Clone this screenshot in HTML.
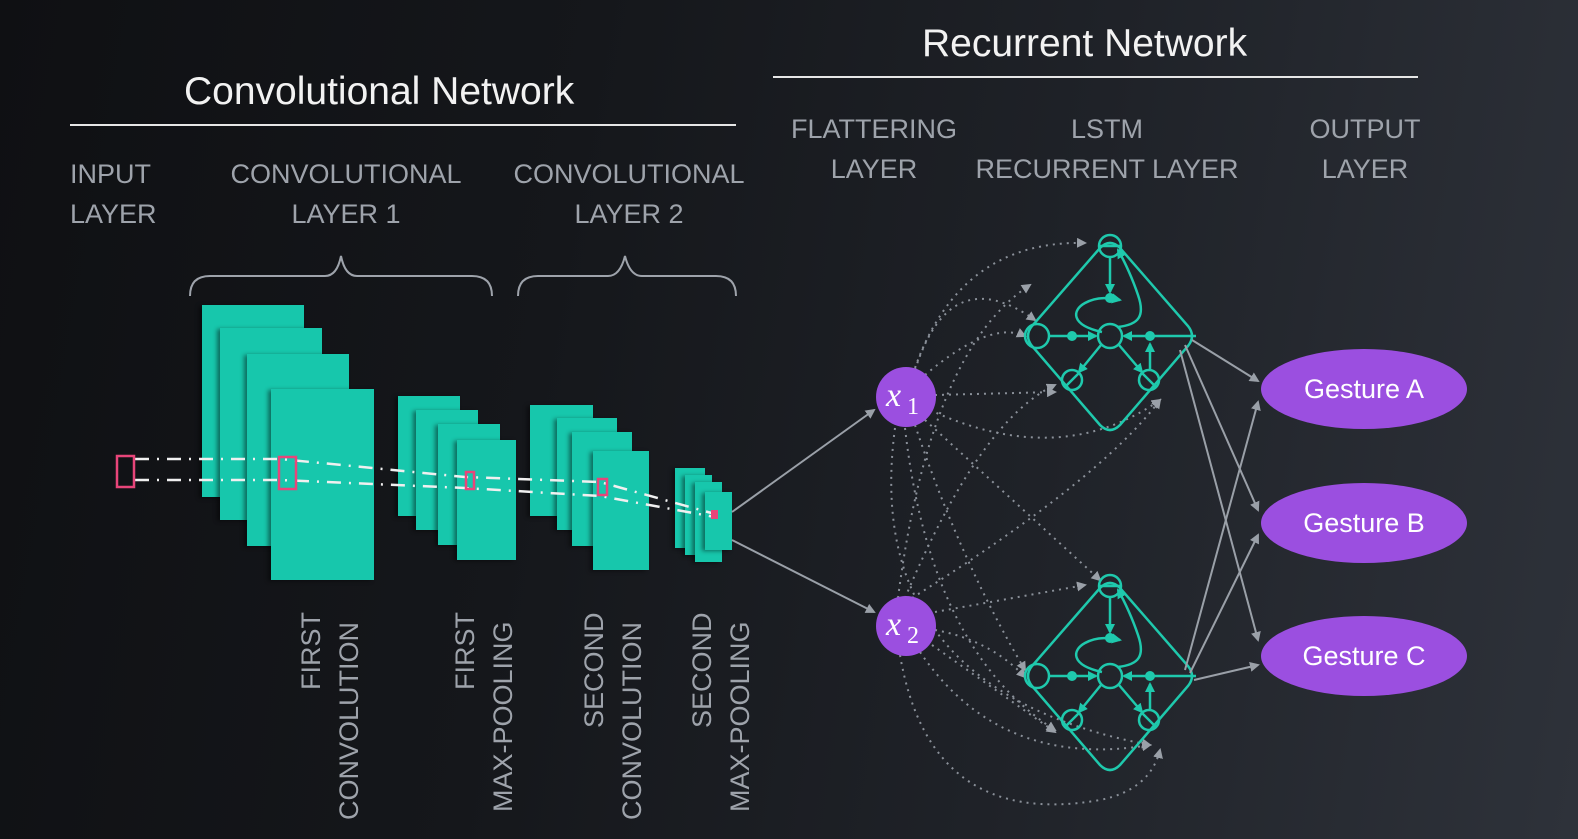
<!DOCTYPE html>
<html><head><meta charset="utf-8"><style>
html,body{margin:0;padding:0}
body{width:1578px;height:839px;overflow:hidden;background:linear-gradient(100deg,#0f1013 0%,#15171b 35%,#1f2228 65%,#2e323a 100%);}
svg{position:absolute;left:0;top:0}
text{font-family:"Liberation Sans",sans-serif}
.lbl{fill:#9ea3ab;font-size:27px}
.t{fill:#f2f2f2;font-size:39px}
.c rect{filter:drop-shadow(-3px 1px 2px rgba(0,0,0,0.45))}
</style></head><body>
<svg width="1578" height="839" viewBox="0 0 1578 839">
<defs>
<marker id="ag" markerWidth="10" markerHeight="10" refX="8" refY="5" orient="auto" markerUnits="userSpaceOnUse"><path d="M0,0 L10,5 L0,10z" fill="#9aa0a8"/></marker>
<marker id="at" markerWidth="10" markerHeight="10" refX="8" refY="5" orient="auto" markerUnits="userSpaceOnUse"><path d="M0,0 L10,5 L0,10z" fill="#1fc9ad"/></marker>
<g id="lstm" fill="none" stroke="#1fc9ad" stroke-width="2.5">
<path d="M1100,248 Q1110,238 1120,248 L1188,326 Q1196,336 1188,346 L1120,425 Q1110,435 1100,425 L1032,346 Q1024,336 1032,326 Z"/>
<circle cx="1110" cy="246" r="11"/><line x1="1099" y1="246" x2="1121" y2="246"/>
<circle cx="1037" cy="336" r="12"/>
<circle cx="1110" cy="336" r="12"/>
<circle cx="1072" cy="380" r="10"/><line x1="1065" y1="387" x2="1079" y2="373"/>
<circle cx="1149" cy="380" r="10"/><line x1="1142" y1="373" x2="1156" y2="387"/>
<line x1="1049" y1="336" x2="1096" y2="336" marker-end="url(#at)"/>
<line x1="1196" y1="336" x2="1124" y2="336" marker-end="url(#at)"/>
<line x1="1110" y1="257" x2="1110" y2="292" marker-end="url(#at)"/>
<path d="M1102,332 C1070,325 1072,310 1085,303 C1098,296 1110,298 1120,300" marker-end="url(#at)"/>
<path d="M1117,327 C1140,325 1145,315 1138,295 C1133,280 1125,262 1118,250" marker-end="url(#at)"/>
<line x1="1101" y1="345" x2="1079" y2="372" marker-end="url(#at)"/>
<line x1="1119" y1="345" x2="1142" y2="372" marker-end="url(#at)"/>
<line x1="1150" y1="370" x2="1150" y2="344" marker-end="url(#at)"/>
<g fill="#1fc9ad" stroke="none"><circle cx="1110" cy="298" r="5"/><circle cx="1072" cy="336" r="5"/><circle cx="1150" cy="336" r="5"/></g>
</g>
</defs>

<text class="t" x="184" y="104">Convolutional Network</text>
<line x1="70" y1="125" x2="736" y2="125" stroke="#e6e6e6" stroke-width="2"/>
<text class="t" x="922" y="56">Recurrent Network</text>
<line x1="773" y1="77" x2="1418" y2="77" stroke="#e6e6e6" stroke-width="2"/>

<g class="lbl">
<text x="70" y="183">INPUT</text><text x="70" y="223">LAYER</text>
<text x="346" y="183" text-anchor="middle">CONVOLUTIONAL</text><text x="346" y="223" text-anchor="middle">LAYER 1</text>
<text x="629" y="183" text-anchor="middle">CONVOLUTIONAL</text><text x="629" y="223" text-anchor="middle">LAYER 2</text>
<text x="874" y="138" text-anchor="middle">FLATTERING</text><text x="874" y="178" text-anchor="middle">LAYER</text>
<text x="1107" y="138" text-anchor="middle">LSTM</text><text x="1107" y="178" text-anchor="middle">RECURRENT LAYER</text>
<text x="1365" y="138" text-anchor="middle">OUTPUT</text><text x="1365" y="178" text-anchor="middle">LAYER</text>
</g>

<g fill="none" stroke="#9ea3ab" stroke-width="2">
<path d="M190,296 Q190,276 210,276 L325,276 Q337,276 341,256 Q345,276 357,276 L472,276 Q492,276 492,296"/>
<path d="M518,296 Q518,276 538,276 L608,276 Q620,276 625,256 Q630,276 642,276 L716,276 Q736,276 736,296"/>
</g>

<g class="c" fill="#17c7ac">
<rect x="202" y="305" width="102" height="192"/><rect x="220" y="328" width="102" height="192"/><rect x="247" y="354" width="102" height="192"/><rect x="271" y="389" width="103" height="191"/>
<rect x="398" y="396" width="62" height="120"/><rect x="416" y="410" width="62" height="120"/><rect x="438" y="424" width="62" height="121"/><rect x="457" y="440" width="59" height="120"/>
<rect x="530" y="405" width="63" height="111"/><rect x="557" y="418" width="60" height="112"/><rect x="572" y="432" width="60" height="114"/><rect x="593" y="451" width="56" height="119"/>
<rect x="675" y="468" width="30" height="80"/><rect x="685" y="475" width="27" height="80"/><rect x="695" y="482" width="27" height="80"/><rect x="705" y="492" width="27" height="58"/>
</g>
<g stroke="#f0f0f0" stroke-width="2.5" stroke-dasharray="14,8,2,8" fill="none">
<path d="M135,459 L280,459 L465,477 L600,482 L715,514"/>
<path d="M135,480 L280,480 L465,488 L600,496 L715,517"/>
</g>
<g fill="none" stroke="#e8457a" stroke-width="2.5">
<rect x="117" y="456" width="17" height="31"/><rect x="279" y="457" width="17" height="32"/><rect x="466" y="472" width="8" height="17"/><rect x="598" y="479" width="9" height="16"/>
</g>
<rect x="711" y="510" width="7" height="9" fill="#e8457a"/>

<g class="lbl">
<text transform="translate(320,690) rotate(-90)">FIRST</text>
<text transform="translate(358,820) rotate(-90)">CONVOLUTION</text>
<text transform="translate(474,690) rotate(-90)">FIRST</text>
<text transform="translate(512,812) rotate(-90)">MAX-POOLING</text>
<text transform="translate(603,728) rotate(-90)">SECOND</text>
<text transform="translate(641,820) rotate(-90)">CONVOLUTION</text>
<text transform="translate(711,728) rotate(-90)">SECOND</text>
<text transform="translate(749,812) rotate(-90)">MAX-POOLING</text>
</g>

<g stroke="#9aa0a8" stroke-width="2" fill="none">
<line x1="732" y1="512" x2="874" y2="410" marker-end="url(#ag)"/>
<line x1="732" y1="540" x2="874" y2="612" marker-end="url(#ag)"/>
</g>

<g stroke="#8a9099" stroke-width="2" fill="none" stroke-dasharray="2,5" marker-end="url(#ag)">
<path d="M915,368 Q960,240 1085,243"/>
<path d="M925,375 Q990,320 1025,336"/>
<path d="M935,395 L1055,392"/>
<path d="M930,410 Q1060,470 1160,400"/>
<path d="M925,420 L1100,580"/>
<path d="M915,425 Q960,560 1025,670"/>
<path d="M905,428 Q930,650 1055,730"/>
<path d="M895,428 Q860,690 1150,745"/>
<path d="M898,598 Q930,350 1030,285"/>
<path d="M905,598 Q980,420 1055,385"/>
<path d="M912,598 Q1100,480 1160,400"/>
<path d="M935,612 L1085,585"/>
<path d="M935,630 Q990,640 1025,677"/>
<path d="M932,645 L1055,732"/>
<path d="M920,652 Q1000,770 1150,745"/>
<path d="M900,655 Q930,830 1100,800 Q1150,790 1160,750"/>
<path d="M915,370 Q950,260 1035,320"/>
</g>

<use href="#lstm"/>
<use href="#lstm" transform="translate(0,340)"/>

<g stroke="#9aa0a8" stroke-width="2" fill="none" marker-end="url(#ag)">
<line x1="1192" y1="340" x2="1258" y2="381"/>
<line x1="1185" y1="345" x2="1258" y2="510"/>
<line x1="1180" y1="350" x2="1258" y2="640"/>
<line x1="1185" y1="670" x2="1258" y2="402"/>
<line x1="1190" y1="673" x2="1258" y2="535"/>
<line x1="1194" y1="680" x2="1258" y2="665"/>
</g>

<g fill="#9b4fe0">
<circle cx="906" cy="397" r="30"/><circle cx="906" cy="626" r="30"/>
<ellipse cx="1364" cy="389" rx="103" ry="40"/><ellipse cx="1364" cy="523" rx="103" ry="40"/><ellipse cx="1364" cy="656" rx="103" ry="40"/>
</g>
<g fill="#fff" font-style="italic">
<text x="886" y="406" font-size="34" style="font-family:'Liberation Serif',serif">x</text><text x="907" y="414" font-size="24" font-style="normal" style="font-family:'Liberation Serif',serif">1</text>
<text x="886" y="635" font-size="34" style="font-family:'Liberation Serif',serif">x</text><text x="907" y="643" font-size="24" font-style="normal" style="font-family:'Liberation Serif',serif">2</text>
</g>
<g fill="#fff" font-size="27" text-anchor="middle">
<text x="1364" y="398">Gesture A</text><text x="1364" y="532">Gesture B</text><text x="1364" y="665">Gesture C</text>
</g>
</svg>
</body></html>
